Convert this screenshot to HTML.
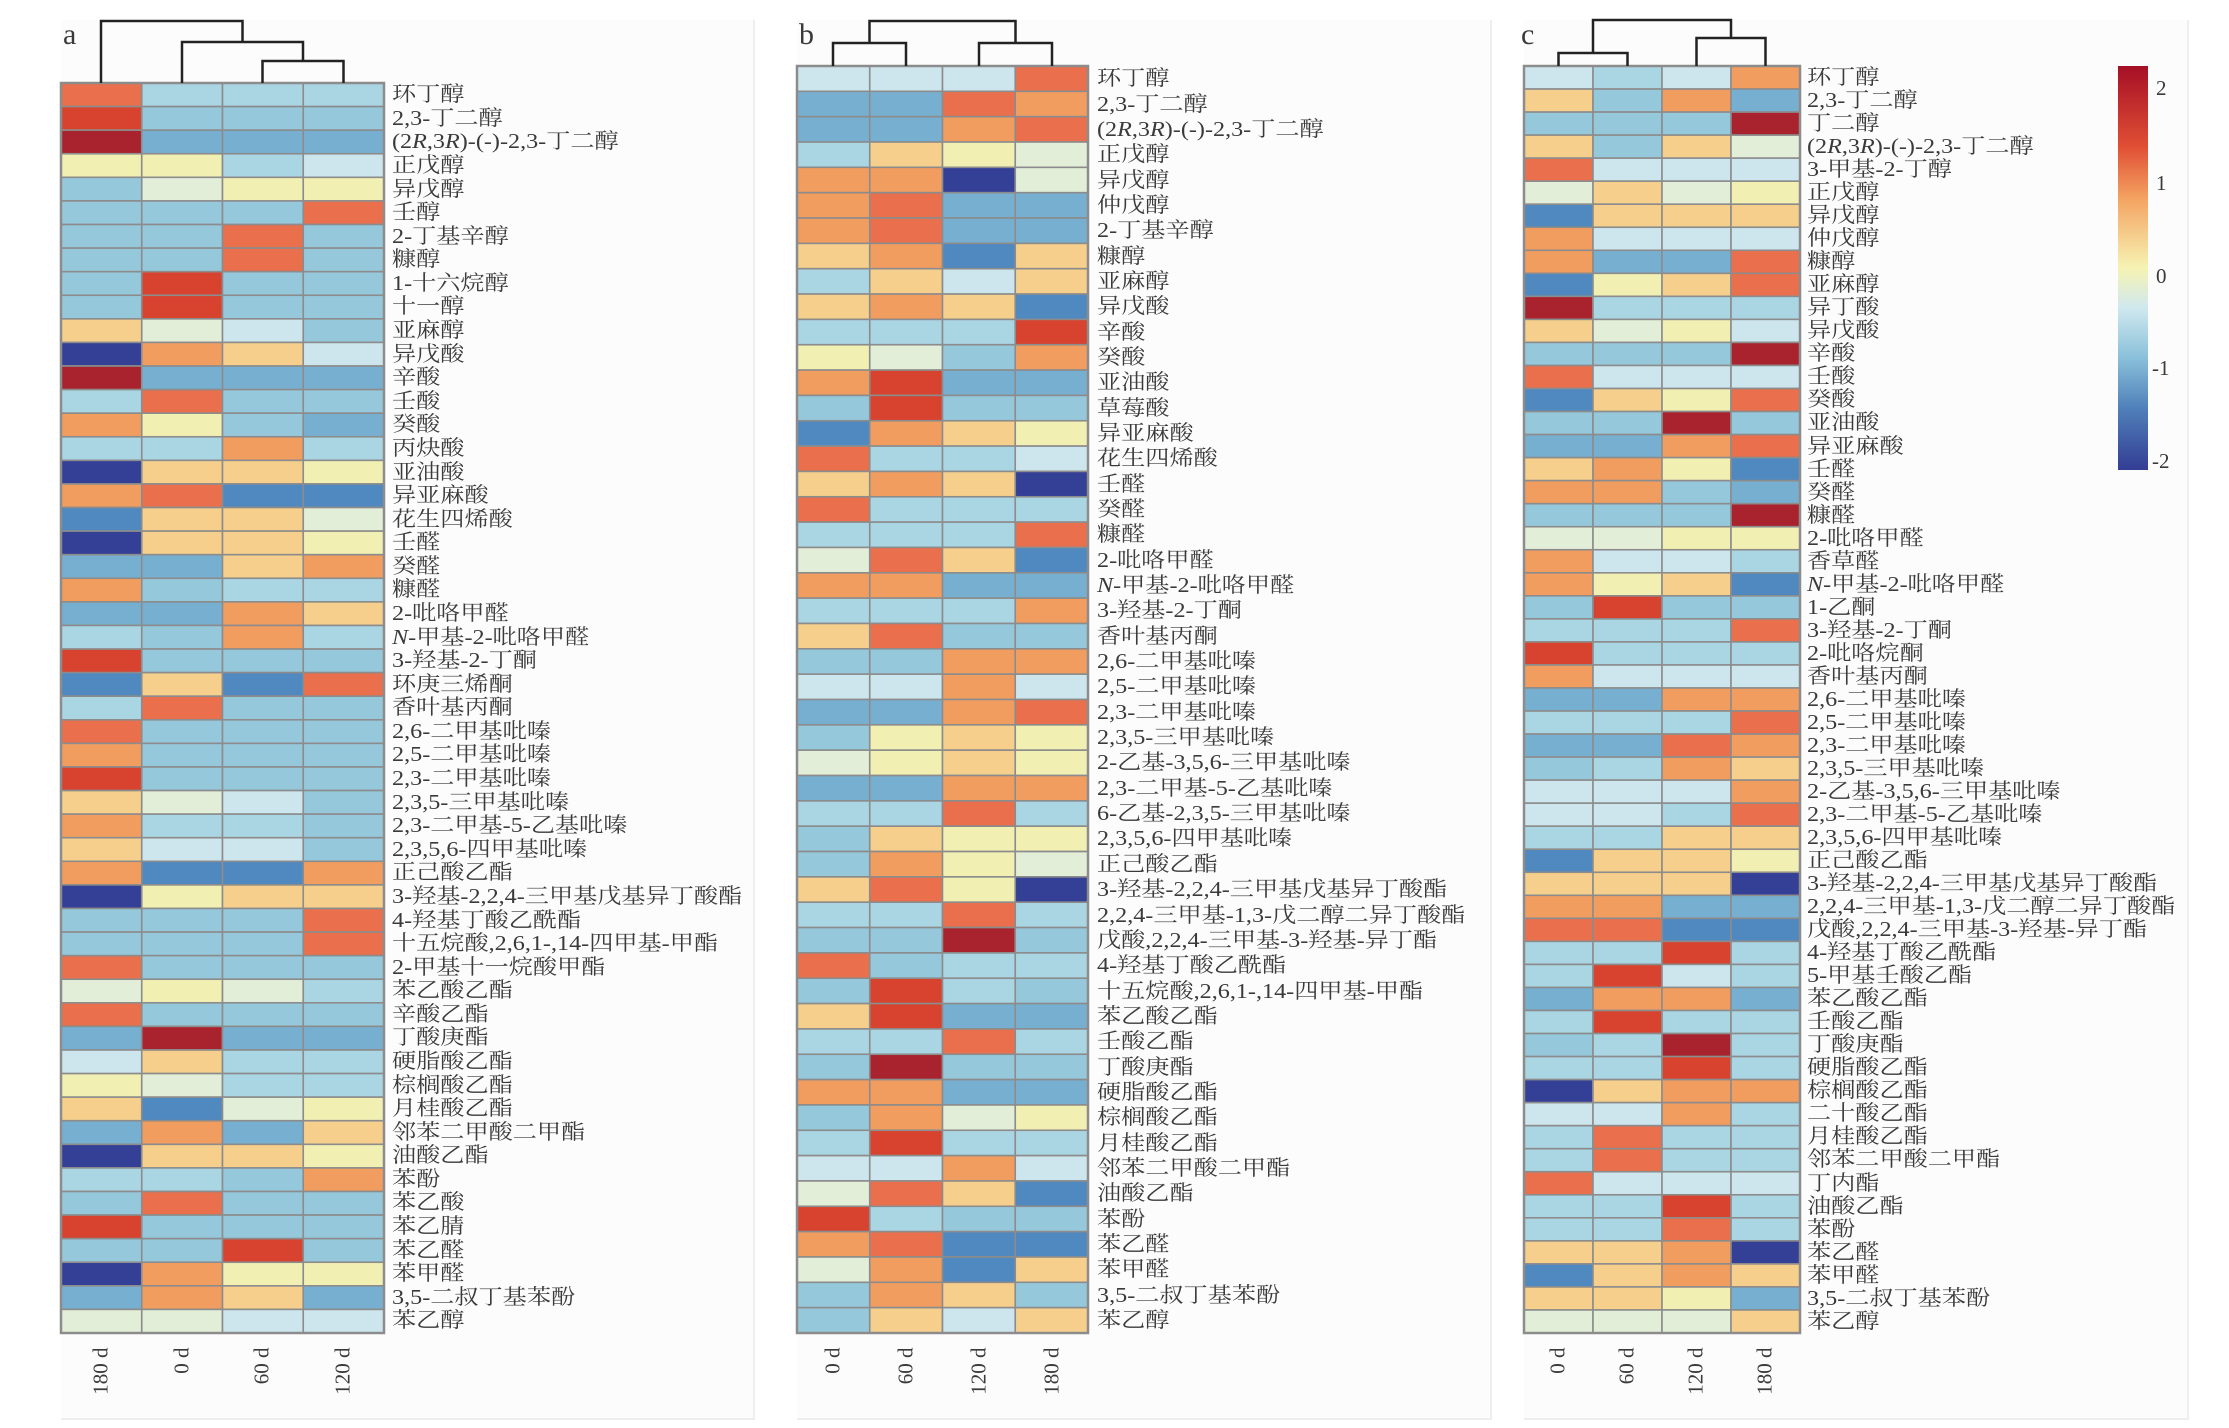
<!DOCTYPE html>
<html><head><meta charset="utf-8">
<style>
body{margin:0;background:#fff;width:2229px;height:1426px;position:relative;overflow:hidden;font-family:"Liberation Serif","Noto Serif CJK SC",serif;color:#3a3a3a}
.panel{position:absolute;background:#fcfcfc;border-right:2px solid #eee;border-bottom:2px solid #eee}
.lab{position:absolute;display:flex;flex-direction:column}
.lab div{font-size:21px;white-space:nowrap;transform:scaleX(1.15);transform-origin:left center;flex:1;display:flex;align-items:center;line-height:1}
.ltr{position:absolute;font-size:30px}
.cl{position:absolute;font-size:21px;transform:rotate(-90deg);transform-origin:center;white-space:nowrap;width:80px;text-align:right}
.tk{position:absolute;font-size:21px}
</style></head><body>
<div class="panel" style="left:61px;top:20px;width:692px;height:1398px"></div>
<div class="panel" style="left:797px;top:20px;width:693px;height:1398px"></div>
<div class="panel" style="left:1524px;top:20px;width:663px;height:1398px"></div>
<div class="ltr" style="left:63px;top:18px">a</div>
<div class="ltr" style="left:799px;top:18px">b</div>
<div class="ltr" style="left:1521px;top:18px">c</div>
<svg id="sv" width="2229" height="1426" style="position:absolute;left:0;top:0"></svg>

<div class="lab" style="left:392px;top:83px;height:1250px">
<div>环丁醇</div><div>2,3-丁二醇</div><div>(2<i>R</i>,3<i>R</i>)-(-)-2,3-丁二醇</div><div>正戊醇</div><div>异戊醇</div><div>壬醇</div><div>2-丁基辛醇</div><div>糠醇</div><div>1-十六烷醇</div><div>十一醇</div><div>亚麻醇</div><div>异戊酸</div><div>辛酸</div><div>壬酸</div><div>癸酸</div><div>丙炔酸</div><div>亚油酸</div><div>异亚麻酸</div><div>花生四烯酸</div><div>壬醛</div><div>癸醛</div><div>糠醛</div><div>2-吡咯甲醛</div><div><i>N</i>-甲基-2-吡咯甲醛</div><div>3-羟基-2-丁酮</div><div>环庚三烯酮</div><div>香叶基丙酮</div><div>2,6-二甲基吡嗪</div><div>2,5-二甲基吡嗪</div><div>2,3-二甲基吡嗪</div><div>2,3,5-三甲基吡嗪</div><div>2,3-二甲基-5-乙基吡嗪</div><div>2,3,5,6-四甲基吡嗪</div><div>正己酸乙酯</div><div>3-羟基-2,2,4-三甲基戊基异丁酸酯</div><div>4-羟基丁酸乙酰酯</div><div>十五烷酸,2,6,1-,14-四甲基-甲酯</div><div>2-甲基十一烷酸甲酯</div><div>苯乙酸乙酯</div><div>辛酸乙酯</div><div>丁酸庚酯</div><div>硬脂酸乙酯</div><div>棕榈酸乙酯</div><div>月桂酸乙酯</div><div>邻苯二甲酸二甲酯</div><div>油酸乙酯</div><div>苯酚</div><div>苯乙酸</div><div>苯乙腈</div><div>苯乙醛</div><div>苯甲醛</div><div>3,5-二叔丁基苯酚</div><div>苯乙醇</div>
</div>

<div class="lab" style="left:1097px;top:66px;height:1267px">
<div>环丁醇</div><div>2,3-丁二醇</div><div>(2<i>R</i>,3<i>R</i>)-(-)-2,3-丁二醇</div><div>正戊醇</div><div>异戊醇</div><div>仲戊醇</div><div>2-丁基辛醇</div><div>糠醇</div><div>亚麻醇</div><div>异戊酸</div><div>辛酸</div><div>癸酸</div><div>亚油酸</div><div>草莓酸</div><div>异亚麻酸</div><div>花生四烯酸</div><div>壬醛</div><div>癸醛</div><div>糠醛</div><div>2-吡咯甲醛</div><div><i>N</i>-甲基-2-吡咯甲醛</div><div>3-羟基-2-丁酮</div><div>香叶基丙酮</div><div>2,6-二甲基吡嗪</div><div>2,5-二甲基吡嗪</div><div>2,3-二甲基吡嗪</div><div>2,3,5-三甲基吡嗪</div><div>2-乙基-3,5,6-三甲基吡嗪</div><div>2,3-二甲基-5-乙基吡嗪</div><div>6-乙基-2,3,5-三甲基吡嗪</div><div>2,3,5,6-四甲基吡嗪</div><div>正己酸乙酯</div><div>3-羟基-2,2,4-三甲基戊基异丁酸酯</div><div>2,2,4-三甲基-1,3-戊二醇二异丁酸酯</div><div>戊酸,2,2,4-三甲基-3-羟基-异丁酯</div><div>4-羟基丁酸乙酰酯</div><div>十五烷酸,2,6,1-,14-四甲基-甲酯</div><div>苯乙酸乙酯</div><div>壬酸乙酯</div><div>丁酸庚酯</div><div>硬脂酸乙酯</div><div>棕榈酸乙酯</div><div>月桂酸乙酯</div><div>邻苯二甲酸二甲酯</div><div>油酸乙酯</div><div>苯酚</div><div>苯乙醛</div><div>苯甲醛</div><div>3,5-二叔丁基苯酚</div><div>苯乙醇</div>
</div>

<div class="lab" style="left:1807px;top:66px;height:1267px">
<div>环丁醇</div><div>2,3-丁二醇</div><div>丁二醇</div><div>(2<i>R</i>,3<i>R</i>)-(-)-2,3-丁二醇</div><div>3-甲基-2-丁醇</div><div>正戊醇</div><div>异戊醇</div><div>仲戊醇</div><div>糠醇</div><div>亚麻醇</div><div>异丁酸</div><div>异戊酸</div><div>辛酸</div><div>壬酸</div><div>癸酸</div><div>亚油酸</div><div>异亚麻酸</div><div>壬醛</div><div>癸醛</div><div>糠醛</div><div>2-吡咯甲醛</div><div>香草醛</div><div><i>N</i>-甲基-2-吡咯甲醛</div><div>1-乙酮</div><div>3-羟基-2-丁酮</div><div>2-吡咯烷酮</div><div>香叶基丙酮</div><div>2,6-二甲基吡嗪</div><div>2,5-二甲基吡嗪</div><div>2,3-二甲基吡嗪</div><div>2,3,5-三甲基吡嗪</div><div>2-乙基-3,5,6-三甲基吡嗪</div><div>2,3-二甲基-5-乙基吡嗪</div><div>2,3,5,6-四甲基吡嗪</div><div>正己酸乙酯</div><div>3-羟基-2,2,4-三甲基戊基异丁酸酯</div><div>2,2,4-三甲基-1,3-戊二醇二异丁酸酯</div><div>戊酸,2,2,4-三甲基-3-羟基-异丁酯</div><div>4-羟基丁酸乙酰酯</div><div>5-甲基壬酸乙酯</div><div>苯乙酸乙酯</div><div>壬酸乙酯</div><div>丁酸庚酯</div><div>硬脂酸乙酯</div><div>棕榈酸乙酯</div><div>二十酸乙酯</div><div>月桂酸乙酯</div><div>邻苯二甲酸二甲酯</div><div>丁内酯</div><div>油酸乙酯</div><div>苯酚</div><div>苯乙醛</div><div>苯甲醛</div><div>3,5-二叔丁基苯酚</div><div>苯乙醇</div>
</div>

<div class="cl" style="left:61px;top:1375px">180 d</div>
<div class="cl" style="left:142px;top:1375px">0 d</div>
<div class="cl" style="left:222px;top:1375px">60 d</div>
<div class="cl" style="left:303px;top:1375px">120 d</div>
<div class="cl" style="left:793px;top:1375px">0 d</div>
<div class="cl" style="left:866px;top:1375px">60 d</div>
<div class="cl" style="left:939px;top:1375px">120 d</div>
<div class="cl" style="left:1012px;top:1375px">180 d</div>
<div class="cl" style="left:1518px;top:1375px">0 d</div>
<div class="cl" style="left:1587px;top:1375px">60 d</div>
<div class="cl" style="left:1656px;top:1375px">120 d</div>
<div class="cl" style="left:1725px;top:1375px">180 d</div>

<div class="tk" style="left:2156px;top:76px">2</div>
<div class="tk" style="left:2156px;top:171px">1</div>
<div class="tk" style="left:2156px;top:264px">0</div>
<div class="tk" style="left:2152px;top:356px">-1</div>
<div class="tk" style="left:2152px;top:449px">-2</div>

<script>
var C={A:"#a8232d",B:"#d7432f",C:"#ea6f4c",D:"#f29d60",E:"#f5cf8b",F:"#f1efb2",G:"#e3eed9",H:"#cde6ee",I:"#aad5e3",J:"#96c8dc",K:"#77afd0",L:"#5088c0",M:"#343f96"};
var pa="CIII BJJJ AKKK FFIH JGFF JJJC JJCJ JJCJ JBJJ JBJJ EGHJ MDEH AKKK ICJJ DFJK IIDI MEEF DCLL LEEG MEEF KKED DJII KKDE IJDI BJJJ LELC ICJJ CJJJ DJJJ BJJJ EGHJ DIIJ EHHJ DLLD MFEE JJJC JJJC CJJJ GFGI CJJJ KAKK HEII FGII ELGF KDKE MEEF IIJD JCJJ BJJJ JJBJ MDFF KDEK GGHH";
var pb="HHHC KKCD KKDC IEFG DDMG DCKK DCKK EDLE IEHE EDEL IIIB FGJD DBKK JBJJ LDEF CIIH EDEM CIII IIIC GCEL DDKK IIID ECJJ JJDD HHDH KKDC JFEF GFEF KKDD IICI JEFF JDFG ECFM IICI JJAJ CJII JBIJ EBKK IICI JAJJ DDKK JDGF IBII HHDH GCEL BIJJ DCLL GDLE JDEJ JEHE";
var pc="HIHD EJDK JJJA EJEG CHHH GEGF LEEE DHHH DKKC LFEC AIII EGFH JJJA CHHH LEFC JJAJ KKDC EDFL DDJK JJJA GGFF DHHI DFEL JBJJ IIIC BIII DHHH KKDD IIIC KKCD JIDE HHHD HHIC IIEE LEEF EEEM DDKK CCLL IIBI IBHI KDDK IBII JIAI IIBI MEDD HHDI ICII ICII CHHH IIBI IICI EEDM LEDE EEFK GGGE";
var s="";
function hm(str,x0,y0,cw,h){var r=str.split(" ");var rh=h/r.length;
for(var i=0;i<r.length;i++)for(var j=0;j<4;j++){s+='<rect x="'+(x0+j*cw)+'" y="'+(y0+i*rh)+'" width="'+cw+'" height="'+rh+'" fill="'+C[r[i][j]]+'" stroke="#8c8c8c" stroke-width="1.6"/>';}
s+='<rect x="'+x0+'" y="'+y0+'" width="'+(4*cw)+'" height="'+h+'" fill="none" stroke="#8c8c8c" stroke-width="2.5"/>';}
hm(pa,61,83,80.75,1250);
hm(pb,797,66,72.75,1267);
hm(pc,1524,66,69,1267);
function L(p){s+='<polyline points="'+p+'" fill="none" stroke="#222" stroke-width="2.5"/>';}
// a: 180 | (0 | (60|120))
L("262.5,83 262.5,61 343.5,61 343.5,83");
L("182,83 182,42 303,42 303,61");
L("101,83 101,21 242.5,21 242.5,42");
// b
L("833,66 833,43 906,43 906,66");
L("979,66 979,43 1052,43 1052,66");
L("869.5,43 869.5,21 1015.5,21 1015.5,43");
// c
L("1558.5,66 1558.5,53 1627.5,53 1627.5,66");
L("1696.5,66 1696.5,38 1765.5,38 1765.5,66");
L("1593,53 1593,20 1731,20 1731,38");
// colorbar
s+='<defs><linearGradient id="g" x1="0" y1="0" x2="0" y2="1"><stop offset="0" stop-color="#a50f26"/><stop offset="0.2" stop-color="#e04f34"/><stop offset="0.33" stop-color="#f4a462"/><stop offset="0.5" stop-color="#f6f3b3"/><stop offset="0.6" stop-color="#cfe8ef"/><stop offset="0.72" stop-color="#8bc1da"/><stop offset="0.85" stop-color="#4f7fb9"/><stop offset="1" stop-color="#333d94"/></linearGradient></defs>';
s+='<rect x="2118" y="66" width="30" height="404" fill="url(#g)"/>';
document.getElementById("sv").innerHTML=s;
</script>
</body></html>
